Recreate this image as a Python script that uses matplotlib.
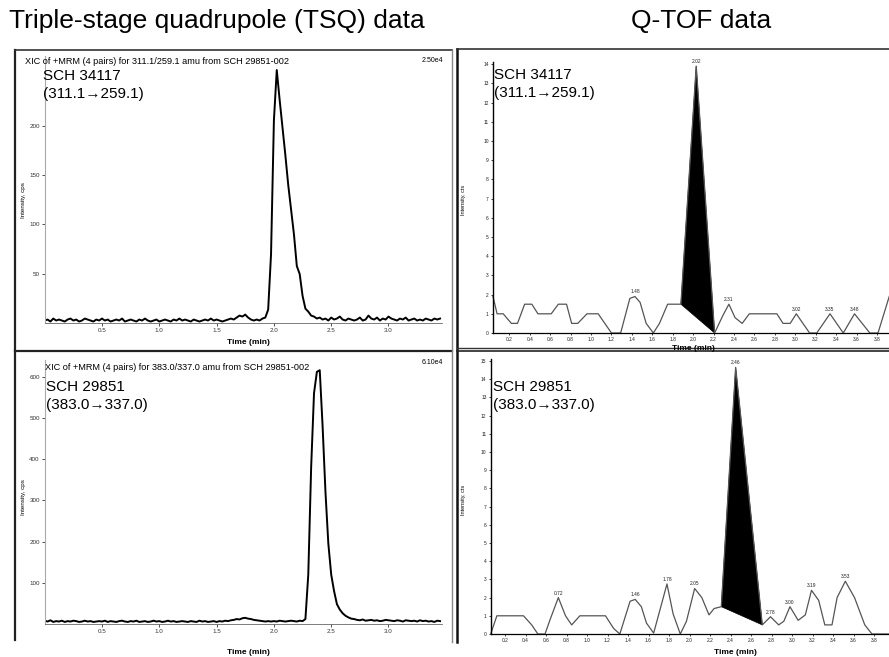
import numpy as np
import matplotlib
matplotlib.use("Agg")
from matplotlib import pyplot as plt
from matplotlib.lines import Line2D

plt.rcParams['font.family'] = ['Liberation Sans', 'DejaVu Sans']

W, H = 889, 657

# TSQ traces, one value every 0.025 min starting at 0
tsq_step = 0.025
tsq1_y = [3, 4, 2, 5, 3, 4, 3, 2, 4, 5, 3, 4, 2, 3, 5, 4, 3, 2, 4, 3,
          5, 3, 4, 2, 3, 4, 3, 5, 2, 3, 4, 3, 2, 4, 3, 5, 3, 2, 3, 4,
          2, 3, 4, 3, 2, 4, 3, 5, 3, 4, 3, 2, 4, 3, 2, 3, 4, 3, 5, 3,
          4, 3, 2, 3, 4, 5, 4, 6, 8, 7, 9, 6, 4, 3, 4, 3, 5,
          6, 14, 70, 205, 256, 226, 198, 170, 140, 115, 90, 58, 50, 28, 15, 12, 8, 7, 5,
          6, 4, 5, 3, 6, 4, 5, 7, 4, 3, 5, 4, 3, 4, 6, 3, 4, 8, 5, 4,
          6, 3, 5, 4, 7, 5, 4, 3, 5, 4, 6, 3, 4, 5, 3, 4, 3, 5, 4, 3, 5, 4, 5]
tsq2_y = [8, 6, 9, 5, 7, 6, 8, 5, 7, 6, 8, 7, 5, 6, 8, 6, 7, 5, 6, 7,
          6, 8, 5, 7, 6, 5, 7, 8, 6, 5, 7, 6, 8, 5, 6, 7, 5, 6, 8, 6,
          7, 5, 6, 8, 6, 7, 5, 6, 7, 6, 5, 7, 6, 5, 8, 6, 7, 5, 6, 7,
          5, 7, 6, 8, 7, 9, 10, 12, 11, 14, 15, 13, 12, 10, 9, 8, 7, 6, 7, 6,
          7, 6, 8, 7, 6, 7, 8, 7, 6, 8,
          7, 12, 120, 380, 560, 612, 616, 480, 320, 195, 120, 80, 48, 35, 26, 20, 16, 13, 12,
          10, 9, 11, 8, 9, 10, 8, 9, 7, 8, 10, 9, 8, 7, 9, 8, 6, 9, 8, 7,
          8, 6, 9, 7, 8, 6, 7, 5, 8, 7]

# Q-TOF traces (time, intensity) at the vertices of the trace
qtof1_t = [0.04, 0.08, 0.14, 0.22, 0.28, 0.35, 0.42, 0.48, 0.61, 0.68,
           0.76, 0.81, 0.87, 0.96, 1.07, 1.20, 1.29, 1.38, 1.43, 1.48,
           1.54, 1.61, 1.67, 1.75, 1.88, 2.03, 2.21, 2.29, 2.35, 2.41,
           2.48, 2.55, 2.82, 2.88, 2.95, 3.01, 3.14, 3.21, 3.34, 3.47,
           3.58, 3.73, 3.81, 3.92]
qtof1_y = [1.9, 1.0, 1.0, 0.5, 0.5, 1.5, 1.5, 1.0, 1.0, 1.5,
           1.5, 0.5, 0.5, 1.0, 1.0, 0.0, 0.0, 1.8, 1.9, 1.6,
           0.5, 0.0, 0.5, 1.5, 1.5, 13.9, 0.0, 0.9, 1.5, 0.8,
           0.5, 1.0, 1.0, 0.5, 0.5, 1.0, 0.0, 0.0, 1.0, 0.0,
           1.0, 0.0, 0.0, 1.9]
qtof1_fill = (24, 26)
qtof1_peaks = [1.43, 2.03, 2.35, 3.01, 3.34, 3.58]
qtof1_peak_labels = ["1.48", "2.02", "2.31", "3.02", "3.35", "3.48"]

qtof2_t = [0.06, 0.12, 0.38, 0.46, 0.52, 0.59, 0.64, 0.72, 0.79, 0.85,
           0.93, 1.18, 1.26, 1.32, 1.42, 1.47, 1.53, 1.58, 1.65, 1.72,
           1.78, 1.84, 1.91, 1.97, 2.05, 2.12, 2.19, 2.24, 2.31, 2.45,
           2.71, 2.79, 2.87, 2.92, 2.98, 3.06, 3.13, 3.19, 3.26, 3.32,
           3.39, 3.44, 3.52, 3.61, 3.71, 3.78, 4.05]
qtof2_y = [0, 1.0, 1.0, 0.5, 0, 0, 0.8, 2.0, 1.0, 0.5,
           1.0, 1.0, 0.3, 0, 1.8, 1.9, 1.5, 0.6, 0.05, 1.5,
           2.75, 1.1, 0, 0.7, 2.5, 2.0, 1.05, 1.4, 1.5, 14.65,
           0.5, 0.95, 0.5, 0.7, 1.5, 0.75, 1.05, 2.4, 1.85, 0.5,
           0.5, 2.0, 2.9, 2.0, 0.5, 0, 0]
qtof2_fill = (28, 30)
qtof2_peaks = [0.72, 1.47, 1.78, 2.05, 2.45, 2.79, 2.98, 3.19, 3.52]
qtof2_peak_labels = ["0.72", "1.46", "1.78", "2.05", "2.46", "2.78", "3.00", "3.19", "3.53"]

tsq_xticks = [0.5, 1.0, 1.5, 2.0, 2.5, 3.0]
tsq1_yticks = [50, 100, 150, 200]
tsq2_yticks = [100, 200, 300, 400, 500, 600]
qtof_xticks = [0.2, 0.4, 0.6, 0.8, 1.0, 1.2, 1.4, 1.6, 1.8, 2.0,
               2.2, 2.4, 2.6, 2.8, 3.0, 3.2, 3.4, 3.6, 3.8]

fig = plt.figure(figsize=(W / 100, H / 100), dpi=100)


def add_ax(left, top, right, bottom):
    return fig.add_axes([left / W, 1 - bottom / H, (right - left) / W, (bottom - top) / H])


def ftext(x, y, s, **kw):
    fig.text(x / W, 1 - y / H, s, **kw)


def fline(x0, y0, x1, y1, **kw):
    fig.add_artist(Line2D([x0 / W, x1 / W], [1 - y0 / H, 1 - y1 / H],
                          transform=fig.transFigure, **kw))


# panel frames
fline(15, 50, 15, 640, color="#222", lw=1.6)
fline(15, 50, 452, 50, color="#333", lw=1.2)
fline(15, 351, 452, 351, color="#222", lw=1.6)
fline(452, 50, 452, 642, color="#888", lw=1.0)
fline(457, 49, 457, 642, color="#111", lw=1.8)
fline(457, 49, 889, 49, color="#333", lw=1.2)
fline(457, 347.5, 889, 347.5, color="#333", lw=1.0)
fline(457, 350.5, 889, 350.5, color="#222", lw=1.2)

# titles
ftext(9, 21, "Triple-stage quadrupole (TSQ) data", fontsize=19, va="center", ha="left")
ftext(701, 21, "Q-TOF data", fontsize=19, va="center", ha="center")


def style_tsq(ax, yticks):
    for s in ["top", "right"]:
        ax.spines[s].set_visible(False)
    ax.spines["left"].set_color("#aaa")
    ax.spines["left"].set_linewidth(0.8)
    ax.spines["bottom"].set_color("#666")
    ax.spines["bottom"].set_linewidth(0.6)
    ax.set_xticks(tsq_xticks)
    ax.set_yticks(yticks)
    ax.tick_params(labelsize=4.5, length=2, width=0.6, pad=1.5, colors="#333")


# TSQ top
t1 = tsq_step * np.arange(len(tsq1_y))
ax1 = add_ax(44.7, 323.5 - 270 * 0.99, 44.7 + 3.47 * 114.6, 323.5)
ax1.plot(t1, tsq1_y, color="black", lw=1.4)
ax1.set_xlim(0, 3.47)
ax1.set_ylim(0, 270)
style_tsq(ax1, tsq1_yticks)

# TSQ bottom
t2 = tsq_step * np.arange(len(tsq2_y))
ax2 = add_ax(44.7, 624 - 640 * 0.412, 44.7 + 3.47 * 114.6, 624)
ax2.plot(t2, tsq2_y, color="black", lw=1.4)
ax2.set_xlim(0, 3.47)
ax2.set_ylim(0, 640)
style_tsq(ax2, tsq2_yticks)

ftext(25, 61, "XIC of +MRM (4 pairs) for 311.1/259.1 amu from SCH 29851-002",
      fontsize=6.6, va="center", ha="left")
ftext(443, 61, "2.50e4", fontsize=5, va="center", ha="right")
ftext(45, 367, "XIC of +MRM (4 pairs) for 383.0/337.0 amu from SCH 29851-002",
      fontsize=6.6, va="center", ha="left")
ftext(443, 362, "6.10e4", fontsize=5, va="center", ha="right")
ftext(248, 343, "Time (min)", fontsize=6, fontweight="bold", va="center", ha="center")
ftext(248, 652, "Time (min)", fontsize=6, fontweight="bold", va="center", ha="center")
ftext(24, 200, "Intensity, cps", fontsize=4.5, rotation=90, va="center", ha="center")
ftext(24, 497, "Intensity, cps", fontsize=4.5, rotation=90, va="center", ha="center")


def style_qtof(ax, ymax):
    for s in ["top", "right"]:
        ax.spines[s].set_visible(False)
    ax.spines["left"].set_linewidth(1.0)
    ax.spines["bottom"].set_linewidth(0.9)
    ax.set_xticks(qtof_xticks)
    ax.set_xticklabels([f"{v:.1f}" for v in qtof_xticks])
    ax.set_yticks(range(0, ymax + 1))
    ax.tick_params(labelsize=3.5, length=1.5, width=0.6, pad=1.5, colors="#222")


def draw_qtof(ax, t, y, fill, peaks, labels):
    ax.plot(t, y, color="#555", lw=0.9, clip_on=False)
    i0, i1 = fill
    ax.fill(t[i0:i1 + 1], y[i0:i1 + 1], color="black", lw=0.5)
    for p, s in zip(peaks, labels):
        ax.annotate(s, (p, np.interp(p, t, y)), xytext=(0, 1.5), textcoords="offset points",
                    ha="center", va="bottom", fontsize=3.5, color="#222")


# Q-TOF top
ax3 = add_ax(493, 333 - 14.1 * 19.2, 488.6 + 4.05 * 102.2, 333)
draw_qtof(ax3, qtof1_t, qtof1_y, qtof1_fill, qtof1_peaks, qtof1_peak_labels)
ax3.set_xlim(0.04, 4.05)
ax3.set_ylim(0, 14.1)
style_qtof(ax3, 14)

# Q-TOF bottom
ax4 = add_ax(490.7, 634 - 15.1 * 18.2, 484.5 + 4.05 * 102.5, 634)
draw_qtof(ax4, qtof2_t, qtof2_y, qtof2_fill, qtof2_peaks, qtof2_peak_labels)
ax4.set_xlim(0.06, 4.05)
ax4.set_ylim(0, 15.1)
style_qtof(ax4, 15)

ftext(693, 349, "Time (min)", fontsize=6, fontweight="bold", va="center", ha="center")
ftext(735, 652, "Time (min)", fontsize=6, fontweight="bold", va="center", ha="center")
ftext(463, 200, "Intensity, cts", fontsize=4, rotation=90, va="center", ha="center")
ftext(463, 500, "Intensity, cts", fontsize=4, rotation=90, va="center", ha="center")

# compound labels
for x0, y0, name, trans in [(43, 76, "SCH 34117", "(311.1\u2192259.1)"),
                            (46, 387, "SCH 29851", "(383.0\u2192337.0)"),
                            (494, 75, "SCH 34117", "(311.1\u2192259.1)"),
                            (493, 387, "SCH 29851", "(383.0\u2192337.0)")]:
    ftext(x0, y0, name, fontsize=11, va="center", ha="left")
    ftext(x0, y0 + 18, trans, fontsize=11, va="center", ha="left")

fig.savefig("out.png", dpi=100)
